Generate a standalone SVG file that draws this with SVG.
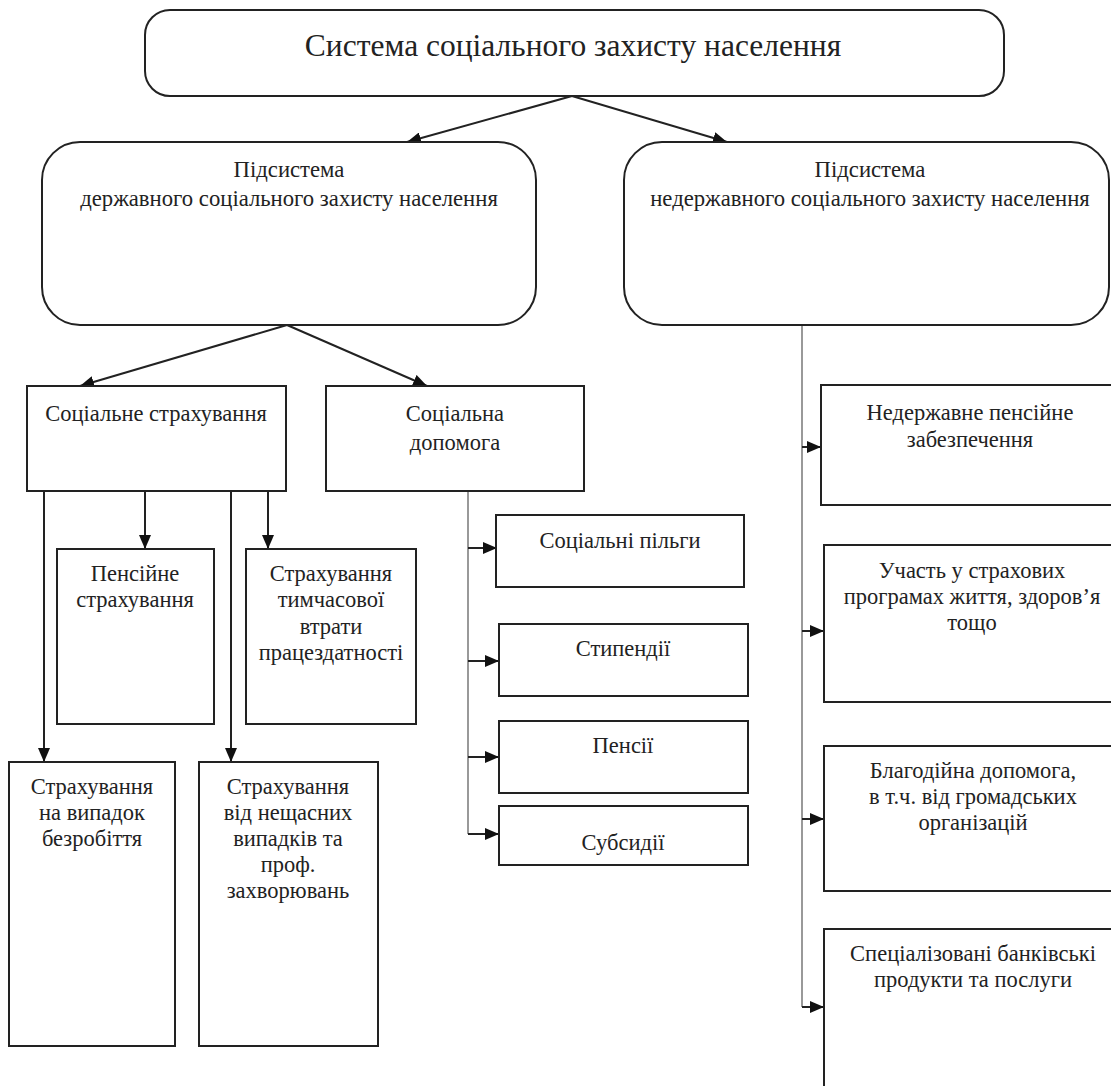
<svg xmlns="http://www.w3.org/2000/svg" width="1111" height="1086" viewBox="0 0 1111 1086">
<style>
.box{fill:#fff;stroke:#222;stroke-width:2}
.t{font-family:"Liberation Serif","DejaVu Serif",serif;font-size:22.5px;fill:#222;text-anchor:middle}
.t23{font-size:22.7px}
.t30{font-size:31.5px}
.c{fill:none;stroke:#222;stroke-width:2}
.thin{fill:none;stroke:#555;stroke-width:1.2}
</style>
<defs>
<marker id="ah" markerUnits="userSpaceOnUse" markerWidth="14" markerHeight="12" viewBox="0 0 14 12" refX="14" refY="6" orient="auto">
<path d="M0,0 L14,6 L0,12 Z" fill="#111"/>
</marker>
</defs>
<rect width="1111" height="1086" fill="#fff"/>
<g id="connectors">
<line class="c" x1="572" y1="96" x2="407" y2="142" marker-end="url(#ah)"/>
<line class="c" x1="572" y1="96" x2="727" y2="142" marker-end="url(#ah)"/>
<line class="c" x1="287" y1="325" x2="80" y2="386" marker-end="url(#ah)"/>
<line class="c" x1="287" y1="325" x2="427" y2="386" marker-end="url(#ah)"/>
<line class="c" x1="44" y1="491" x2="44" y2="762" marker-end="url(#ah)"/>
<line class="c" x1="145" y1="491" x2="145" y2="549" marker-end="url(#ah)"/>
<line class="c" x1="231" y1="488" x2="231" y2="762" marker-end="url(#ah)"/>
<line class="c" x1="268" y1="491" x2="268" y2="549" marker-end="url(#ah)"/>
<line class="thin" x1="468" y1="491" x2="468" y2="834"/>
<line class="c" x1="468" y1="548" x2="497" y2="548" marker-end="url(#ah)"/>
<line class="c" x1="468" y1="661" x2="499" y2="661" marker-end="url(#ah)"/>
<line class="c" x1="468" y1="757" x2="499" y2="757" marker-end="url(#ah)"/>
<line class="c" x1="468" y1="834" x2="499" y2="834" marker-end="url(#ah)"/>
<line class="thin" x1="802" y1="325" x2="802" y2="1007"/>
<line class="c" x1="802" y1="447" x2="821" y2="447" marker-end="url(#ah)"/>
<line class="c" x1="802" y1="631" x2="824" y2="631" marker-end="url(#ah)"/>
<line class="c" x1="802" y1="819" x2="824" y2="819" marker-end="url(#ah)"/>
<line class="c" x1="802" y1="1007" x2="824" y2="1007" marker-end="url(#ah)"/>
</g>
<g id="n-system">
<rect class="box" x="145" y="10" width="859" height="86" rx="25"/>
<text class="t t30" x="573" y="56">Система соціального захисту населення</text>
</g>
<g id="n-state">
<rect class="box" x="42" y="142" width="494" height="183" rx="38"/>
<text class="t t23" x="289" y="177">Підсистема</text>
<text class="t t23" x="289" y="206">державного соціального захисту населення</text>
</g>
<g id="n-nonstate">
<rect class="box" x="624" y="142" width="485" height="183" rx="38"/>
<text class="t t23" x="870" y="177">Підсистема</text>
<text class="t t23" x="870" y="206">недержавного соціального захисту населення</text>
</g>
<g id="n-insurance">
<rect class="box" x="27" y="386" width="259" height="105"/>
<text class="t" x="156" y="421">Соціальне страхування</text>
</g>
<g id="n-assistance">
<rect class="box" x="326" y="386" width="258" height="105"/>
<text class="t" x="455" y="421">Соціальна</text>
<text class="t" x="455" y="450">допомога</text>
</g>
<g id="n-pension-ins">
<rect class="box" x="57" y="549" width="157" height="175"/>
<text class="t" x="135" y="581">Пенсійне</text>
<text class="t" x="135" y="607">страхування</text>
</g>
<g id="n-temp">
<rect class="box" x="246" y="549" width="170" height="175"/>
<text class="t" x="331" y="581">Страхування</text>
<text class="t" x="331" y="607">тимчасової</text>
<text class="t" x="331" y="634">втрати</text>
<text class="t" x="331" y="660">працездатності</text>
</g>
<g id="n-unemployment">
<rect class="box" x="9" y="762" width="166" height="284"/>
<text class="t" x="92" y="794">Страхування</text>
<text class="t" x="92" y="820">на випадок</text>
<text class="t" x="92" y="846">безробіття</text>
</g>
<g id="n-accident">
<rect class="box" x="199" y="762" width="179" height="284"/>
<text class="t" x="288" y="794">Страхування</text>
<text class="t" x="288" y="820">від нещасних</text>
<text class="t" x="288" y="846">випадків та</text>
<text class="t" x="288" y="872">проф.</text>
<text class="t" x="288" y="898">захворювань</text>
</g>
<g id="n-benefits">
<rect class="box" x="496" y="515" width="248" height="72"/>
<text class="t" x="620" y="548">Соціальні пільги</text>
</g>
<g id="n-stipends">
<rect class="box" x="499" y="624" width="249" height="72"/>
<text class="t" x="623" y="656">Стипендії</text>
</g>
<g id="n-pensions">
<rect class="box" x="499" y="721" width="249" height="72"/>
<text class="t" x="623" y="753">Пенсії</text>
</g>
<g id="n-subsidies">
<rect class="box" x="499" y="806" width="249" height="59"/>
<text class="t" x="623" y="850">Субсидії</text>
</g>
<g id="n-npf">
<rect class="box" x="821" y="385" width="300" height="120"/>
<text class="t" x="970" y="420">Недержавне пенсійне</text>
<text class="t" x="970" y="447">забезпечення</text>
</g>
<g id="n-ins-programs">
<rect class="box" x="824" y="545" width="300" height="157"/>
<text class="t" x="972" y="578">Участь у страхових</text>
<text class="t" x="972" y="604">програмах життя, здоров’я</text>
<text class="t" x="972" y="630">тощо</text>
</g>
<g id="n-charity">
<rect class="box" x="824" y="746" width="300" height="145"/>
<text class="t" x="973" y="778">Благодійна допомога,</text>
<text class="t" x="973" y="804">в т.ч. від громадських</text>
<text class="t" x="973" y="830">організацій</text>
</g>
<g id="n-bank">
<rect class="box" x="824" y="929" width="300" height="180"/>
<text class="t" x="973" y="961">Спеціалізовані банківські</text>
<text class="t" x="973" y="987">продукти та послуги</text>
</g>
</svg>
